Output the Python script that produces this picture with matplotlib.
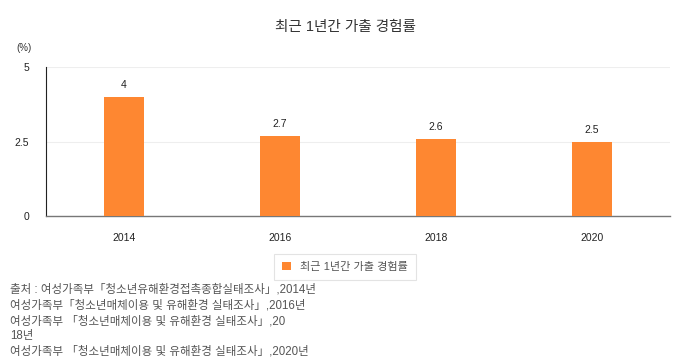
import matplotlib
matplotlib.use('Agg')
from matplotlib import pyplot as plt
from matplotlib.patches import Patch

plt.rcParams['font.family'] = ['Liberation Sans', 'Noto Sans CJK KR', 'DejaVu Sans']

years = ['2014', '2016', '2018', '2020']
rates = [4, 2.7, 2.6, 2.5]
yticks = [0, 2.5, 5]
series_name = '최근 1년간 가출 경험률'
title = '최근 1년간 가출 경험률'
source_lines = [
    '출처 : 여성가족부「청소년유해환경접촉종합실태조사」,2014년',
    '여성가족부「청소년매체이용 및 유해환경 실태조사」,2016년',
    '여성가족부 「청소년매체이용 및 유해환경 실태조사」,20',
    '18년',
    '여성가족부 「청소년매체이용 및 유해환경 실태조사」,2020년',
]

bar_color = '#fe8731'

fig = plt.figure(figsize=(6.9, 3.6), dpi=100)
ax = fig.add_axes([46 / 690, 0.4, 624 / 690, 149 / 360])

x = range(len(years))
bars = ax.bar(x, rates, width=0.256, color=bar_color, zorder=3)
for xi, v in zip(x, rates):
    ax.text(xi, v + 0.22, f'{v:g}', ha='center', va='bottom', fontsize=7.5, color='#222222')

ax.set_xlim(-0.5, len(years) - 0.5)
ax.set_ylim(0, 5)
ax.set_xticks(list(x))
ax.set_xticklabels(years, fontsize=7.5, color='#222222')
ax.set_yticks(yticks)
ax.set_yticklabels([f'{t:g}' for t in yticks], fontsize=7.5, color='#222222')
ax.tick_params(axis='both', length=0)
ax.tick_params(axis='x', pad=12)
ax.tick_params(axis='y', pad=12)
ax.grid(axis='y', color='#eeeeee', linewidth=0.8, zorder=0)
for s in ['top', 'right']:
    ax.spines[s].set_visible(False)
ax.spines['left'].set_color('#222222')
ax.spines['left'].set_linewidth(0.8)
ax.spines['bottom'].set_color('#777777')
ax.spines['bottom'].set_linewidth(1.0)

fig.text(345 / 690, 1 - 27 / 360, title, ha='center', va='center', fontsize=10.5, color='#333333')
fig.text(16 / 690, 1 - 48 / 360, '(%)', ha='left', va='center', fontsize=7, color='#333333')

leg = fig.legend(handles=[Patch(facecolor=bar_color, label=series_name)],
                 loc='center', bbox_to_anchor=(345 / 690, 1 - 267 / 360),
                 fontsize=8, frameon=True, fancybox=False, handlelength=0.8,
                 handleheight=0.8, borderpad=0.7, labelcolor='#555555')
leg.get_frame().set_edgecolor('#dddddd')
leg.get_frame().set_linewidth(0.8)

for i, line in enumerate(source_lines):
    fig.text(10 / 690, 1 - (290 + i * 15.5) / 360, line, ha='left', va='center',
             fontsize=8.3, color='#555555')

fig.savefig('out.png', dpi=100)
